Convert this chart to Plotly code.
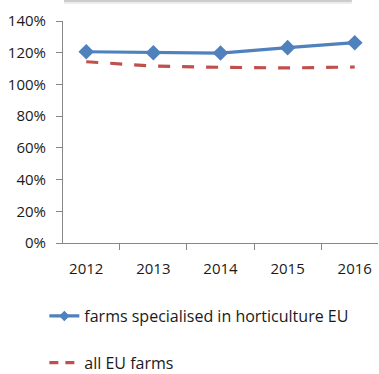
import plotly.graph_objects as go

years = ["2012", "2013", "2014", "2015", "2016"]
horticulture_eu = [1.206, 1.200, 1.198, 1.232, 1.263]
all_eu_farms = [1.143, 1.116, 1.108, 1.104, 1.110]
y_ticks = [0, 0.2, 0.4, 0.6, 0.8, 1.0, 1.2, 1.4]

BLUE = "#4F81BD"
RED = "#C0504D"
AXIS = "#878787"
FONT = dict(family="Open Sans", size=15, color="#1a1a1a")
LEGEND_FONT = dict(family="Open Sans", size=16, color="#1a1a1a")

fig = go.Figure()
fig.add_trace(go.Scatter(
    x=years, y=horticulture_eu, name="farms specialised in horticulture EU",
    mode="lines+markers",
    line=dict(color=BLUE, width=3.2),
    marker=dict(symbol="diamond", size=12, color=BLUE),
    showlegend=False,
))
fig.add_trace(go.Scatter(
    x=years, y=all_eu_farms, name="all EU farms",
    mode="lines",
    line=dict(color=RED, width=3.2, dash="12px,12px"),
    showlegend=False,
))
# legend entries with a smaller diamond than the plotted markers
fig.add_trace(go.Scatter(
    x=[None], y=[None], name="farms specialised in horticulture EU",
    mode="lines+markers",
    line=dict(color=BLUE, width=3.2),
    marker=dict(symbol="diamond", size=8, color=BLUE),
    legend="legend",
))
fig.add_trace(go.Scatter(
    x=[None], y=[None], name="all EU farms",
    mode="lines",
    line=dict(color=RED, width=3.2, dash="9px,7px"),
    legend="legend2",
))

fig.update_layout(
    width=379, height=374,
    margin=dict(l=63, r=1, t=21, b=131, autoexpand=False),
    paper_bgcolor="white", plot_bgcolor="white",
    font=FONT,
    showlegend=True,
    legend=dict(x=0.117, y=0.155, xref="container", yref="container",
                xanchor="left", yanchor="middle",
                font=LEGEND_FONT, bgcolor="rgba(0,0,0,0)"),
    legend2=dict(x=0.117, y=0.030, xref="container", yref="container",
                 xanchor="left", yanchor="middle",
                 font=LEGEND_FONT, bgcolor="rgba(0,0,0,0)"),
    xaxis=dict(
        type="category", tickson="boundaries",
        showline=True, linecolor=AXIS, linewidth=1,
        ticks="outside", ticklen=6, tickcolor=AXIS,
        showgrid=False, zeroline=False,
        ticklabelstandoff=12,
    ),
    yaxis=dict(
        range=[0, 1.4], tickvals=y_ticks, tickformat=".0%",
        showline=True, linecolor=AXIS, linewidth=1,
        ticks="outside", ticklen=6, tickcolor=AXIS,
        showgrid=False, zeroline=False,
        ticklabelstandoff=7,
    ),
)

# soft grey edge of the title box above the plot
fig.add_shape(type="line", xref="paper", yref="paper",
              x0=0.003, x1=0.917, y0=1.0901, y1=1.0901,
              line=dict(color="#cccccc", width=2))
fig.add_shape(type="line", xref="paper", yref="paper",
              x0=0.003, x1=0.917, y0=1.081, y1=1.081,
              line=dict(color="#ededed", width=2))

fig.write_html("out.html")
